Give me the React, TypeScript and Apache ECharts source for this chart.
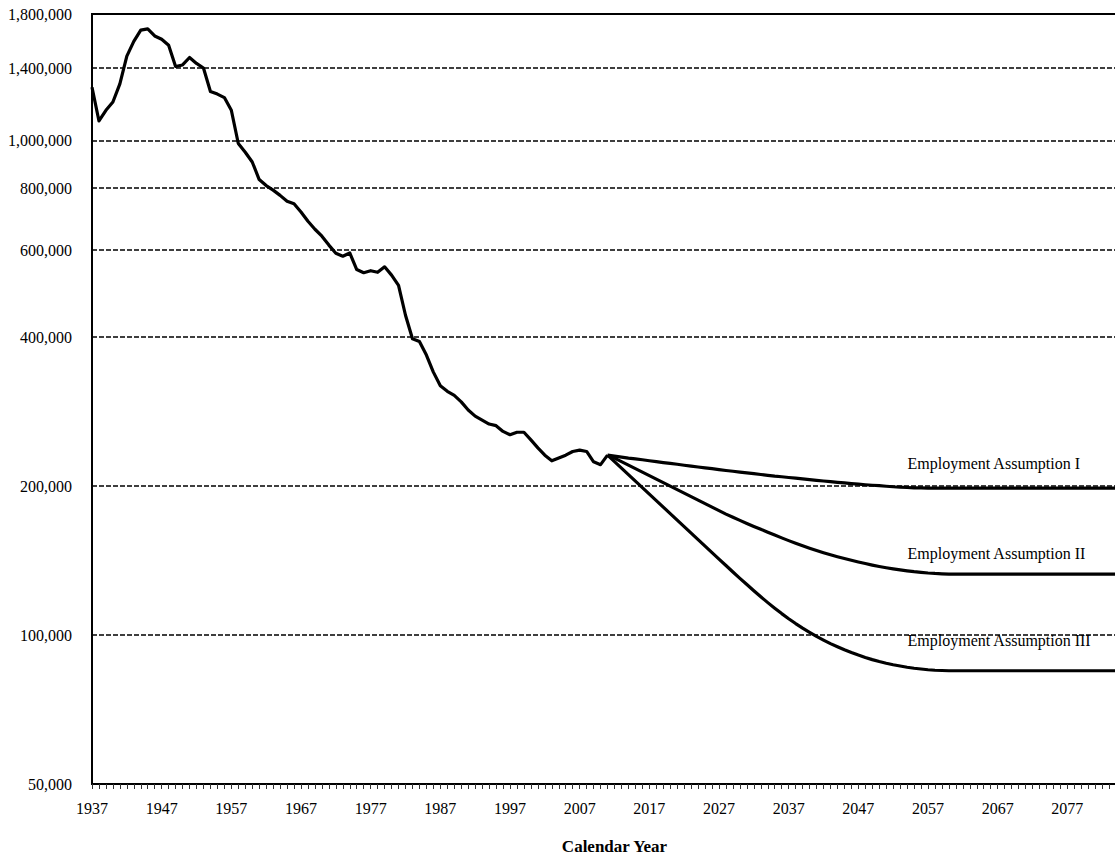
import React, { useEffect, useRef } from "react";
import * as echarts from "echarts";

const FONT = '"Liberation Serif", "Times New Roman", serif';

// Category axis: calendar years
const FIRST_YEAR = 1937;
const LAST_YEAR = 2087;
const YEARS: string[] = [];
for (let y = FIRST_YEAR; y <= LAST_YEAR; y++) YEARS.push(String(y));
const LAST_LABELED_YEAR = 2077;

// Historical railroad employment, 1937-2011
const HIST_START = 1937;
const HISTORY = [
  1280000, 1094000, 1150000, 1195000, 1300000, 1480000, 1585000, 1670000, 1680000, 1625000,
  1600000, 1556000, 1410000, 1420000, 1470000, 1430000, 1400000, 1255000, 1240000, 1220000,
  1150000, 985000, 946000, 904000, 833000, 810000, 793000, 774000, 753000, 744000,
  716000, 686000, 661000, 640000, 614000, 591000, 583000, 592000, 548000, 540000,
  545000, 541000, 555000, 534000, 509000, 443000, 397000, 392000, 368000, 340000,
  319000, 311000, 305000, 296000, 285000, 277000, 272000, 267000, 265000, 258000,
  254000, 257000, 257000, 248000, 239000, 231000, 225000, 228000, 231000, 235000,
  236500, 235000, 224000, 221000, 231000,
];

// Projections, 2011-2087
const PROJ_START = 2011;
const ASSUMPTION_I = [
  231000, 229900, 228900, 227800, 227000, 226100, 225100, 224200, 223200, 222300,
  221400, 220400, 219500, 218600, 217700, 216900, 216000, 215100, 214300, 213500,
  212700, 211900, 211100, 210300, 209500, 208900, 208200, 207500, 206800, 206200,
  205500, 204800, 204200, 203600, 203000, 202400, 201900, 201300, 200800, 200400,
  199900, 199400, 199100, 198700, 198400, 198300, 198200, 198200, 198200, 198200,
  198200, 198200, 198200, 198200, 198200, 198200, 198200, 198200, 198200, 198200,
  198200, 198200, 198200, 198200, 198200, 198200, 198200, 198200, 198200, 198200,
  198200, 198200, 198200, 198200, 198200, 198200, 198200,
];
const ASSUMPTION_II = [
  231000, 227800, 224200, 220500, 217000, 213500, 210000, 206600, 203300, 200000,
  196800, 193600, 190500, 187400, 184400, 181400, 178500, 175600, 173000, 170500,
  168100, 165800, 163600, 161400, 159300, 157200, 155200, 153300, 151500, 149800,
  148200, 146700, 145300, 144000, 142800, 141600, 140500, 139500, 138500, 137600,
  136800, 136100, 135400, 134800, 134300, 133900, 133500, 133200, 133000, 132800,
  132800, 132800, 132800, 132800, 132800, 132800, 132800, 132800, 132800, 132800,
  132800, 132800, 132800, 132800, 132800, 132800, 132800, 132800, 132800, 132800,
  132800, 132800, 132800, 132800, 132800, 132800, 132800,
];
const ASSUMPTION_III = [
  231000, 224200, 217500, 211000, 204700, 198600, 192700, 187000, 181400, 176000,
  170700, 165600, 160700, 155900, 151300, 146800, 142400, 138200, 134100, 130200,
  126500, 122900, 119500, 116300, 113300, 110500, 107900, 105500, 103300, 101300,
  99400, 97700, 96100, 94700, 93400, 92200, 91100, 90100, 89200, 88400,
  87700, 87100, 86600, 86100, 85700, 85400, 85100, 84900, 84800, 84700,
  84700, 84700, 84700, 84700, 84700, 84700, 84700, 84700, 84700, 84700,
  84700, 84700, 84700, 84700, 84700, 84700, 84700, 84700, 84700, 84700,
  84700, 84700, 84700, 84700, 84700, 84700, 84700,
];

// Y axis labels and dashed gridlines
const Y_LABELS = [50000, 100000, 200000, 400000, 600000, 800000, 1000000, 1400000, 1800000];
const GRID_VALUES = [100000, 200000, 400000, 600000, 800000, 1000000, 1400000];

// Series labels: [text, year, value]
const LABEL_NAMES = ["Employment Assumption I", "Employment Assumption II", "Employment Assumption III"];
const LABEL_YEARS = ["2054", "2054", "2054"];
const LABEL_VALUES = [222100, 146400, 97700];

function alignTo(start: number, values: number[]) {
  return YEARS.map((y) => {
    const i = Number(y) - start;
    return i >= 0 && i < values.length ? values[i] : null;
  });
}

const lineStyle = { color: "#000", width: 3.2, join: "round" as const };

function labelPoint(i: number) {
  return {
    silent: true,
    symbol: "circle",
    symbolSize: 1,
    itemStyle: { color: "transparent" },
    label: {
      show: true,
      position: "right",
      distance: 0,
      color: "#000",
      fontFamily: FONT,
      fontSize: 16,
      formatter: LABEL_NAMES[i],
    },
    data: [{ coord: [LABEL_YEARS[i], LABEL_VALUES[i]] }],
  };
}

export default function App() {
  const ref = useRef<HTMLDivElement>(null);
  useEffect(() => {
    if (!ref.current) return;
    const chart = echarts.init(ref.current, null, { renderer: "svg" });
    const option: any = {
      animation: false,
      backgroundColor: "#fff",
      textStyle: { fontFamily: FONT },
      grid: {
        left: 92,
        right: -22,
        top: 14,
        bottom: 72,
        show: true,
        borderColor: "#000",
        borderWidth: 2,
        containLabel: false,
        outerBoundsMode: "none",
      },
      xAxis: {
        type: "category",
        data: YEARS,
        boundaryGap: false,
        axisLine: { show: true, lineStyle: { color: "#000", width: 2 } },
        axisTick: { show: true, interval: 0, length: 5, lineStyle: { color: "#333", width: 1 } },
        axisLabel: {
          interval: (index: number, value: string) =>
            index % 10 === 0 && Number(value) <= LAST_LABELED_YEAR,
          color: "#000",
          fontSize: 16,
          fontFamily: FONT,
          margin: 16,
        },
        splitLine: { show: false },
        name: "Calendar Year",
        nameLocation: "middle",
        nameGap: 54,
        nameTextStyle: { fontFamily: FONT, fontSize: 17, fontWeight: "bold", color: "#000" },
      },
      yAxis: {
        type: "log",
        logBase: 10,
        min: 50000,
        max: 1800000,
        axisLine: { show: true, lineStyle: { color: "#000", width: 2 } },
        axisTick: { show: false },
        splitLine: { show: false },
        minorSplitLine: { show: false },
        axisLabel: {
          customValues: Y_LABELS,
          formatter: (v: number) => Math.round(v).toLocaleString("en-US"),
          color: "#000",
          fontSize: 16,
          fontFamily: FONT,
          margin: 20,
          padding: [7, 0, 0, 0],
        },
      },
      series: [
        {
          name: "History",
          type: "line",
          data: alignTo(HIST_START, HISTORY),
          showSymbol: false,
          symbol: "none",
          lineStyle,
          z: 3,
          markLine: {
            silent: true,
            symbol: ["none", "none"],
            label: { show: false },
            lineStyle: { type: [5, 2], color: "#000", width: 1.6 },
            data: GRID_VALUES.map((v) => ({ yAxis: v })),
            z: 1,
          },
        },
        {
          name: LABEL_NAMES[0],
          type: "line",
          data: alignTo(PROJ_START, ASSUMPTION_I),
          showSymbol: false,
          symbol: "none",
          lineStyle,
          z: 3,
          markPoint: labelPoint(0),
        },
        {
          name: LABEL_NAMES[1],
          type: "line",
          data: alignTo(PROJ_START, ASSUMPTION_II),
          showSymbol: false,
          symbol: "none",
          lineStyle,
          z: 3,
          markPoint: labelPoint(1),
        },
        {
          name: LABEL_NAMES[2],
          type: "line",
          data: alignTo(PROJ_START, ASSUMPTION_III),
          showSymbol: false,
          symbol: "none",
          lineStyle,
          z: 3,
          markPoint: labelPoint(2),
        },
      ],
    };
    chart.setOption(option);
    return () => chart.dispose();
  }, []);
  return (
    <div
      ref={ref}
      style={{ position: "absolute", left: 0, top: 0, width: 1115, height: 856, overflow: "hidden", background: "#fff" }}
    />
  );
}
